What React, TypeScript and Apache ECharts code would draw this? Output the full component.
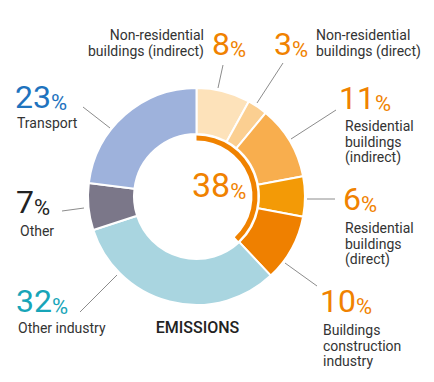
import React, { useEffect, useRef } from 'react';
import * as echarts from 'echarts';

// ---- data ----
const categories = [
  'Non-residential buildings (indirect)',
  'Non-residential buildings (direct)',
  'Residential buildings (indirect)',
  'Residential buildings (direct)',
  'Buildings construction industry',
  'Other industry',
  'Other',
  'Transport',
];
const values = [8, 3, 11, 6, 10, 32, 7, 23];
const labelNames = [
  'Non-residential\nbuildings (indirect)',
  'Non-residential\nbuildings (direct)',
  'Residential\nbuildings\n(indirect)',
  'Residential\nbuildings\n(direct)',
  'Buildings\nconstruction\nindustry',
  'Other industry',
  'Other',
  'Transport',
];
const buildingsCount = 5;
const centerCaption = 'EMISSIONS';

// ---- styles ----
const ORANGE = '#F08200';
const sliceColors = ['#FDE2BA', '#FBCF91', '#F8AE4E', '#F39A06', '#EF8000', '#A9D5E0', '#7B7789', '#9EB2DC'];
const numColors = [ORANGE, ORANGE, ORANGE, ORANGE, ORANGE, '#17A5B8', '#222222', '#1E73BE'];
const FONT = 'Roboto, "Noto Sans", sans-serif';
const NAME_COLOR = '#333333';

// label layout (positions only)
type L = { num: [number, number]; name: [number, number]; align?: 'left' | 'right'; line: [[number, number], [number, number]] };
const layout: L[] = [
  { num: [212, 55], name: [204, 40], align: 'right', line: [[218, 88], [223, 65]] },
  { num: [274, 55], name: [316, 40], line: [[257, 103], [283, 63]] },
  { num: [339, 109], name: [345, 131], line: [[291, 139], [336, 110]] },
  { num: [343, 210], name: [345, 233], line: [[307, 199], [335, 199]] },
  { num: [320, 312], name: [323, 335], line: [[285, 263], [317, 286]] },
  { num: [16, 312], name: [18, 333], line: [[117, 275], [80, 312]] },
  { num: [16, 213], name: [20, 236], line: [[84, 208], [62, 211]] },
  { num: [15, 108], name: [17, 128], line: [[110, 128], [83, 107]] },
];

const C = 0.342; // central baseline offset ratio
function numText(x: number, baseline: number, value: number, color: string, F: number, p: number) {
  const hp = F - 2 * C * F + 2 * C * p;
  return {
    type: 'text',
    x,
    y: baseline - (F / 2 + C * F),
    style: {
      text: `{n|${value}}{p|%}`,
      verticalAlign: 'top',
      align: 'left',
      rich: {
        n: { fontSize: F, fontFamily: FONT, fontWeight: 400, fill: color, color, lineHeight: F, verticalAlign: 'bottom' },
        p: { fontSize: p, fontFamily: FONT, fontWeight: 400, fill: color, color, lineHeight: hp, verticalAlign: 'bottom' },
      },
    },
  };
}

export default function App() {
  const ref = useRef<HTMLDivElement>(null);
  useEffect(() => {
    if (!ref.current) return;
    const chart = echarts.init(ref.current, undefined, { renderer: 'svg' });
    const buildingsTotal = values.slice(0, buildingsCount).reduce((a, b) => a + b, 0);
    const total = values.reduce((a, b) => a + b, 0);
    const graphic: any[] = [];
    layout.forEach((l, i) => {
      graphic.push({
        type: 'line',
        shape: { x1: l.line[0][0], y1: l.line[0][1], x2: l.line[1][0], y2: l.line[1][1] },
        style: { stroke: '#8c8c8c', lineWidth: 1 },
      });
      graphic.push(numText(l.num[0], l.num[1], values[i], numColors[i], 32, 22));
      const LH = 15.5;
      graphic.push({
        type: 'text',
        x: l.name[0],
        y: l.name[1] - (LH / 2 + C * 14),
        style: {
          text: labelNames[i],
          fontSize: 14,
          fontFamily: FONT,
          fill: NAME_COLOR,
          lineHeight: LH,
          align: l.align || 'left',
          verticalAlign: 'top',
        },
      });
    });
    graphic.push(numText(192, 197, buildingsTotal, ORANGE, 34, 22));
    graphic.push({
      type: 'text',
      x: 197.5,
      y: 333 - (8 + C * 16),
      style: {
        text: centerCaption,
        fontSize: 16,
        fontFamily: FONT,
        fontWeight: 500,
        fill: '#222222',
        align: 'center',
        verticalAlign: 'top',
        lineHeight: 16,
      },
    });

    chart.setOption({
      animation: false,
      backgroundColor: '#ffffff',
      series: [
        {
          type: 'pie',
          center: [196.5, 196.5],
          radius: [62.5, 108.5],
          startAngle: 90,
          clockwise: true,
          silent: true,
          label: { show: false },
          labelLine: { show: false },
          itemStyle: { borderColor: '#ffffff', borderWidth: 2 },
          data: categories.map((name, i) => ({ name, value: values[i], itemStyle: { color: sliceColors[i] } })),
        },
        {
          type: 'pie',
          center: [196.5, 196.5],
          radius: [56, 61],
          startAngle: 90,
          clockwise: true,
          silent: true,
          label: { show: false },
          labelLine: { show: false },
          data: [
            { name: 'Buildings', value: buildingsTotal, itemStyle: { color: ORANGE } },
            { name: 'Rest', value: total - buildingsTotal, itemStyle: { color: 'rgba(0,0,0,0)' } },
          ],
        },
      ],
      graphic,
    });
    return () => chart.dispose();
  }, []);
  return <div ref={ref} style={{ position: 'absolute', left: 0, top: 0, width: 434, height: 382 }} />;
}
